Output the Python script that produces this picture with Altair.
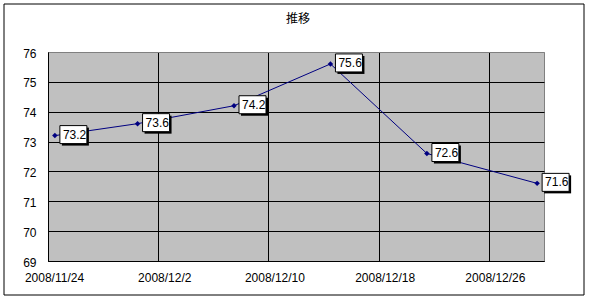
import altair as alt
import pandas as pd

# ---- data ----
dates = ["2008-11-24", "2008-11-30", "2008-12-07", "2008-12-14", "2008-12-21", "2008-12-29"]
values = [73.2, 73.6, 74.2, 75.6, 72.6, 71.6]
labels = ["73.2", "73.6", "74.2", "75.6", "72.6", "71.6"]
x_tick_dates = ["2008-11-24", "2008-12-02", "2008-12-10", "2008-12-18", "2008-12-26"]
x_domain = ["2008-11-24", "2008-12-30"]
y_ticks = [69, 70, 71, 72, 73, 74, 75, 76]
title_text = "推移"

df = pd.DataFrame({"date": dates, "value": values, "label": labels})


def dt(s):
    y, m, d = (int(p) for p in s.split("-"))
    return alt.DateTime(year=y, month=m, date=d, utc=True)


W, H = 496, 209
LEFT, TOP = 48, 52
FONT = "Liberation Sans"

x_enc = alt.X(
    "date:T",
    timeUnit="utcyearmonthdate",
    bandPosition=0.5,
    scale=alt.Scale(type="utc", domain=[dt(s) for s in x_domain]),
    axis=alt.Axis(
        values=[dt(s) for s in x_tick_dates],
        labelExpr="utcFormat(datum.value, '%Y/%-m/%-d')",
        title=None,
        ticks=False,
        labelPadding=11,
        labelOffset=6,
        labelFlush=False,
        labelOverlap=False,
        grid=True,
        gridColor="black",
        gridWidth=1,
        domainColor="black",
        labelFont=FONT,
        labelFontSize=12,
        labelColor="black",
    ),
)
y_enc = alt.Y(
    "value:Q",
    scale=alt.Scale(domain=[69, 76], nice=False, zero=False),
    axis=alt.Axis(
        values=y_ticks,
        title=None,
        ticks=False,
        labelPadding=12,
        labelOffset=1,
        grid=True,
        gridColor={"condition": {"test": "datum.value === 76", "value": "#808080"}, "value": "black"},
        gridWidth=1,
        domainColor="black",
        labelFont=FONT,
        labelFontSize=12,
        labelColor="black",
    ),
)

base = alt.Chart(df).encode(x=x_enc, y=y_enc)

line = base.mark_line(color="#000080", strokeWidth=1)
pts = base.mark_point(shape="diamond", filled=True, size=30, color="#000080", opacity=1)

box_path = "M0.25,-0.5L1.6,-0.5L1.6,0.4L0.25,0.4Z"
shadow = base.mark_point(
    shape=box_path, size=1600, filled=True, fill="black", strokeWidth=0,
    opacity=1, xOffset=2, yOffset=2,
)
box = base.mark_point(
    shape=box_path, size=1600, filled=True, fill="white", stroke="black",
    strokeWidth=1, opacity=1,
)
txt = base.mark_text(
    align="left", baseline="middle", dx=8, dy=-1, font=FONT, fontSize=12, color="black"
).encode(text="label:N")

one = alt.Chart(pd.DataFrame({"t": [title_text]}))
border = one.mark_rect(fill=None, stroke="black", strokeWidth=1).encode(
    x=alt.value(4 - LEFT), x2=alt.value(584 - LEFT),
    y=alt.value(4 - TOP), y2=alt.value(295 - TOP),
)
title = one.mark_text(
    font="Noto Sans CJK JP", fontSize=12, color="black", align="center", baseline="middle"
).encode(x=alt.value(250), y=alt.value(-33), text="t:N")

chart = (
    alt.layer(border, title, line, pts, shadow, box, txt)
    .properties(
        width=W,
        height=H,
        padding={"left": LEFT, "top": TOP, "right": 590 - LEFT - W, "bottom": 300 - TOP - H},
        autosize=alt.AutoSizeParams(type="none"),
        background="white",
    )
    .configure_view(fill="#C0C0C0", stroke="#808080", strokeWidth=1)
)

chart.save("out.html", embed_options={"renderer": "svg", "actions": False})
